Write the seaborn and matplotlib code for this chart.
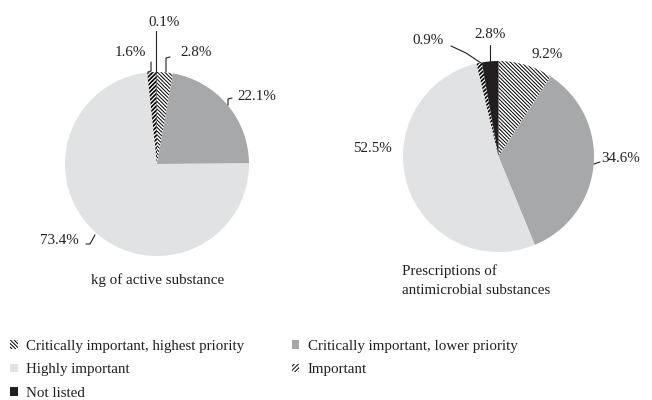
import matplotlib
matplotlib.use("Agg")
import matplotlib.pyplot as plt
from matplotlib.patches import Patch
from matplotlib.lines import Line2D
import seaborn as sns

# ---- data ----
categories = ["Critically important, highest priority",
              "Critically important, lower priority",
              "Highly important",
              "Important",
              "Not listed"]
kg_share = [2.8, 22.1, 73.4, 1.6, 0.1]
rx_share = [9.2, 34.6, 52.5, 0.9, 2.8]
chart_titles = ["kg of active substance",
                "Prescriptions of\nantimicrobial substances"]

colors = ["white", "#a7a8aa", "#e1e2e4", "white", "#231f20"]
hatches = ["\\" * 9, None, None, "/" * 8, None]
hatch_lw = [0.7, 1.0, 1.0, 1.2, 1.0]

sns.set_theme(style="white")
plt.rcParams['font.family'] = ['Liberation Serif', 'DejaVu Serif']
plt.rcParams['hatch.color'] = 'black'
plt.rcParams['hatch.linewidth'] = 0.7
FS = 10.8

W, H = 652, 400
fig = plt.figure(figsize=(W / 100, H / 100), dpi=100)

def fx(x):
    return x / W

def fy(y):
    return 1 - y / H

def add_pie(cx, cy, r, values):
    ax = fig.add_axes([fx(cx - r), fy(cy + r), 2 * r / W, 2 * r / H])
    wedges, _ = ax.pie(values, colors=colors, startangle=90, counterclock=False,
                       radius=1, wedgeprops=dict(linewidth=0, edgecolor="black"))
    for w, h, lw in zip(wedges, hatches, hatch_lw):
        if h:
            w.set_hatch(h)
            try:
                w.set_hatch_linewidth(lw)
            except Exception:
                pass
    ax.set_xlim(-1, 1)
    ax.set_ylim(-1, 1)
    ax.set_aspect("equal")
    ax.axis("off")
    return ax

add_pie(157, 164, 92, kg_share)
add_pie(498.5, 156.5, 95.5, rx_share)

def label(txt, x, y, ha="center"):
    fig.text(fx(x), fy(y), txt, ha=ha, va="center", fontsize=FS, color="#231f20")

def leader(pts):
    xs = [fx(p[0]) for p in pts]
    ys = [fy(p[1]) for p in pts]
    fig.add_artist(Line2D(xs, ys, color="#231f20", lw=0.8))

fmt = lambda v: f"{v:.1f}%"

# left pie labels
label(fmt(kg_share[4]), 164, 23)
leader([(156, 31), (156, 72)])
label(fmt(kg_share[3]), 130, 52)
leader([(151, 62), (151, 71), (148, 72)])
label(fmt(kg_share[0]), 196, 52)
leader([(170, 57), (166, 58), (166, 72)])
label(fmt(kg_share[1]), 237, 96, ha="left")
leader([(232, 98), (228, 99), (228, 105)])
label(fmt(kg_share[2]), 79, 241, ha="right")
leader([(86, 244), (90, 244), (95, 235)])

# right pie labels
label(fmt(rx_share[3]), 428, 41)
leader([(451, 46), (466, 53), (481, 63)])
label(fmt(rx_share[4]), 490, 35)
leader([(490, 45), (490, 62)])
label(fmt(rx_share[0]), 547, 55)
label(fmt(rx_share[2]), 372, 148)
label(fmt(rx_share[1]), 601, 158, ha="left")
leader([(594, 164), (600, 162)])

# titles
fig.text(fx(158), fy(280), chart_titles[0], ha="center", va="center", fontsize=FS, color="#231f20")
fig.text(fx(402), fy(281), chart_titles[1], ha="left", va="center", fontsize=FS,
         color="#231f20", linespacing=1.6)

# legend
order = [0, 2, 4, 1, 3]
handles = []
for i in order:
    p = Patch(facecolor=colors[i], edgecolor="black", linewidth=0, hatch=hatches[i],
              label=categories[i])
    handles.append(p)
leg = fig.legend(handles=handles, loc="upper left", bbox_to_anchor=(fx(10), fy(340)),
                 ncol=2, frameon=False, fontsize=FS, handlelength=0.5, handleheight=0.5,
                 handletextpad=0.55, columnspacing=3.2, labelspacing=0.7,
                 borderpad=0, borderaxespad=0)
for t in leg.get_texts():
    t.set_color("#231f20")

fig.savefig("out.png", dpi=100)
